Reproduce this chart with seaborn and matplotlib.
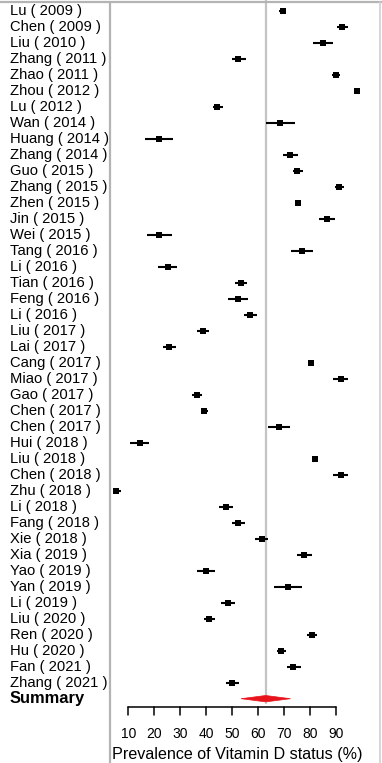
import matplotlib
matplotlib.use("Agg")
import matplotlib.pyplot as plt
import matplotlib.transforms as mtransforms
import seaborn as sns
import pandas as pd
from matplotlib.lines import Line2D
from matplotlib.patches import Polygon

authors = ["Lu", "Chen", "Liu", "Zhang", "Zhao", "Zhou", "Lu", "Wan", "Huang", "Zhang",
           "Guo", "Zhang", "Zhen", "Jin", "Wei", "Tang", "Li", "Tian", "Feng", "Li",
           "Liu", "Lai", "Cang", "Miao", "Gao", "Chen", "Chen", "Hui", "Liu", "Chen",
           "Zhu", "Li", "Fang", "Xie", "Xia", "Yao", "Yan", "Li", "Liu", "Ren",
           "Hu", "Fan", "Zhang"]
years = [2009, 2009, 2010, 2011, 2011, 2012, 2012, 2014, 2014, 2014,
         2015, 2015, 2015, 2015, 2015, 2016, 2016, 2016, 2016, 2016,
         2017, 2017, 2017, 2017, 2017, 2017, 2017, 2018, 2018, 2018,
         2018, 2018, 2018, 2018, 2019, 2019, 2019, 2019, 2020, 2020,
         2020, 2021, 2021]
estimate = [69.6, 92.6, 85.2, 52.4, 90.0, 98.1, 44.3, 68.5, 22.0, 72.4,
            75.2, 91.4, 75.3, 86.5, 22.0, 76.9, 25.2, 53.4, 52.4, 57.0,
            38.7, 25.8, 80.4, 91.9, 36.4, 39.3, 68.1, 14.5, 82.0, 91.9,
            5.3, 47.7, 52.4, 61.5, 77.9, 40.0, 71.5, 48.6, 41.3, 80.8,
            68.9, 73.7, 50.1]
ci_low = [68.0, 90.4, 81.4, 49.9, 88.5, 97.5, 42.6, 63.0, 16.4, 69.6,
          73.4, 89.7, 74.8, 83.7, 17.1, 72.6, 21.6, 51.2, 48.6, 54.6,
          36.4, 23.3, 79.9, 89.1, 34.5, 38.2, 63.8, 10.7, 81.5, 89.1,
          4.0, 45.1, 50.1, 58.9, 75.0, 36.6, 66.3, 45.8, 39.2, 78.8,
          67.3, 71.3, 47.7]
ci_high = [71.0, 94.9, 88.9, 55.3, 91.7, 98.6, 46.4, 74.3, 27.4, 75.6,
           77.3, 93.3, 75.8, 89.7, 26.7, 81.4, 28.9, 55.9, 56.3, 59.8,
           41.3, 28.4, 80.9, 94.9, 38.5, 40.6, 72.4, 18.1, 82.5, 94.9,
           7.1, 50.3, 55.0, 64.0, 81.0, 43.4, 76.9, 51.2, 43.4, 82.7,
           70.8, 76.6, 52.8]
summary_est = 63.0
summary_low = 53.5
summary_high = 72.6
x_ticks = [10, 20, 30, 40, 50, 60, 70, 80, 90]
x_label = "Prevalence of Vitamin D status (%)"

labels = [f"{a} ( {y} )" for a, y in zip(authors, years)]
df = pd.DataFrame({"label": labels, "est": estimate, "lo": ci_low, "hi": ci_high})
df["row"] = range(len(df))
n = len(df)

sns.set_theme(style="white")
plt.rcParams["font.family"] = ["Liberation Sans", "DejaVu Sans"]

W, H = 382, 763
fig = plt.figure(figsize=(W / 100, H / 100), dpi=100)
ax_left, ax_right = 110, 380
ax = fig.add_axes([ax_left / W, 0, (ax_right - ax_left) / W, 1])

# pixel -> data mapping
def px2x(p):
    return 10 + (p - 128.3) / 2.592

def py2y(p):
    return (p - 10.7) / 16.0

ax.set_xlim(px2x(ax_left), px2x(ax_right))
ax.set_ylim(py2y(H), py2y(0))

# reference line
ax.plot([summary_est, summary_est], [py2y(0), py2y(703)], color="#c4c4c4", lw=1.6, zorder=1)

# CIs
ax.hlines(df["row"], df["lo"], df["hi"], color="black", lw=1.5, zorder=2)
sns.scatterplot(data=df, x="est", y="row", marker="s", s=22, color="black",
                edgecolor="black", linewidth=0, ax=ax, zorder=3, legend=False)

# summary diamond
sr = n
diamond = Polygon([[summary_low, sr], [summary_est, sr - 0.2], [summary_high, sr],
                   [summary_est, sr + 0.2]], closed=True, facecolor="#e8141c",
                  edgecolor="#e8141c", lw=0.5, zorder=3)
ax.add_patch(diamond)

# study labels
lab_tr = mtransforms.blended_transform_factory(fig.transFigure, ax.transData)
for i, lab in enumerate(labels):
    ax.text(10 / W, i, lab, transform=lab_tr, ha="left", va="center",
            fontsize=10.6, color="black")
ax.text(10 / W, sr, "Summary", transform=lab_tr, ha="left", va="center",
        fontsize=11.9, fontweight="bold", color="black")

# custom x axis
y_axis = py2y(706.7)
y_tick_end = py2y(715)
ax.plot([x_ticks[0], x_ticks[-1]], [y_axis, y_axis], color="black", lw=1.1, clip_on=False)
for t in x_ticks:
    ax.plot([t, t], [y_axis, y_tick_end], color="black", lw=1.1, clip_on=False)
    ax.text(t, py2y(734), str(t), ha="center", va="center", fontsize=10, color="black")
ax.text(px2x(237), py2y(758.5), x_label, ha="center", va="baseline", fontsize=11.6,
        color="black", clip_on=False)

ax.set_xticks([])
ax.set_yticks([])
ax.set_xlabel("")
ax.set_ylabel("")
for s in ax.spines.values():
    s.set_visible(False)
ax.patch.set_alpha(0)

# frame lines
fig.add_artist(Line2D([0, 1], [1 - 2 / H, 1 - 2 / H], transform=fig.transFigure, color="#b4b4b4", lw=1.6))
fig.add_artist(Line2D([ax_left / W, ax_left / W], [0, 1 - 2 / H], transform=fig.transFigure, color="#b4b4b4", lw=1.6))
fig.add_artist(Line2D([ax_right / W, ax_right / W], [0, 1 - 2 / H], transform=fig.transFigure, color="#d0d0d0", lw=1.2))

fig.savefig("out.png", dpi=100)
